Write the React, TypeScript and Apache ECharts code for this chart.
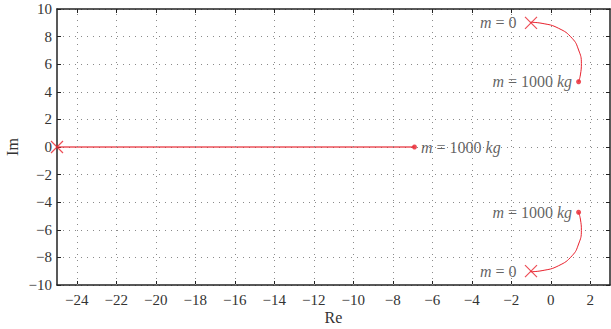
import React, { useEffect, useRef } from "react";
import * as echarts from "echarts";

const xTicks = [-24, -22, -20, -18, -16, -14, -12, -10, -8, -6, -4, -2, 0, 2];
const yTicks = [-10, -8, -6, -4, -2, 0, 2, 4, 6, 8, 10];

const poles = [[-25, 0], [-1, 9], [-1, -9]];
const endPoints = [[-6.9, 0], [1.41, 4.73], [1.41, -4.73]];
const realLocus = [[-25, 0], [-6.9, 0]];
const upperX = [-1.03, -0.44, 0.4, 1.08, 1.41, 1.55, 1.5, 1.41];
const upperY = [9.04, 8.96, 8.6, 7.88, 7.03, 6.06, 5.22, 4.73];
const lowerY = upperY.map((v) => -v);
const labelText = ["{i|m} = 1000 {i|kg}", "{i|m} = 1000 {i|kg}", "{i|m} = 1000 {i|kg}"];
const poleText = ["", "{i|m} = 0", "{i|m} = 0"];

const FONT = "Liberation Serif";
const RED = "#e8202c";
const GRID = { color: "#8a8a8a", type: [1, 5], width: 1 };

export default function App() {
  const ref = useRef<HTMLDivElement>(null);
  useEffect(() => {
    const chart = echarts.init(ref.current!, null, { renderer: "svg" });
    const fmt = (v: number) => (v < 0 ? "\u2212" + Math.abs(v) : String(v));
    const rich = { i: { fontStyle: "italic", fontFamily: FONT, fontSize: 16, color: "#3a3a3a" } };
    const lbl = { fontFamily: FONT, fontSize: 16, color: "#3a3a3a", rich };
    chart.setOption({
      animation: false,
      grid: { left: 57, right: 1, top: 9, bottom: 44, outerBoundsMode: "none", containLabel: false },
      xAxis: [
        {
          type: "value", min: -25, max: 3,
          name: "Re", nameLocation: "middle", nameGap: 24, nameMoveOverlap: false,
          nameTextStyle: { fontFamily: FONT, fontSize: 16, color: "#333" },
          axisLine: { onZero: false, lineStyle: { color: "#222", width: 1.5 } },
          axisTick: { inside: true, length: 4, customValues: xTicks, lineStyle: { color: "#222" } },
          axisLabel: { customValues: xTicks, formatter: fmt, fontFamily: FONT, fontSize: 15, color: "#333", margin: 7 },
          splitLine: { show: false },
        },
        {
          type: "value", min: -25, max: 3, position: "top",
          axisLine: { onZero: false, lineStyle: { color: "#222", width: 1.5 } },
          axisTick: { inside: true, length: 4, customValues: xTicks, lineStyle: { color: "#222" } },
          axisLabel: { show: false },
          splitLine: { show: false },
        },
      ],
      yAxis: [
        {
          type: "value", min: -10, max: 10, interval: 2,
          name: "Im", nameLocation: "middle", nameGap: 37, nameMoveOverlap: false,
          nameTextStyle: { fontFamily: FONT, fontSize: 16, color: "#333" },
          axisLine: { show: true, onZero: false, lineStyle: { color: "#222", width: 1.5 } },
          axisTick: { show: true, inside: true, length: 4, lineStyle: { color: "#222" } },
          axisLabel: { formatter: fmt, fontFamily: FONT, fontSize: 15, color: "#333", margin: 5 },
          splitLine: { show: true, lineStyle: GRID },
        },
        {
          type: "value", min: -10, max: 10, interval: 2, position: "right",
          axisLine: { show: true, onZero: false, lineStyle: { color: "#222", width: 1.5 } },
          axisTick: { show: true, inside: true, length: 4, lineStyle: { color: "#222" } },
          axisLabel: { show: false },
          splitLine: { show: false },
        },
      ],
      series: [
        {
          type: "line", data: [], symbol: "none",
          markLine: {
            silent: true, symbol: "none", label: { show: false },
            lineStyle: GRID,
            data: xTicks.map((v) => ({ xAxis: v })),
          },
        },
        {
          type: "line", data: realLocus, symbol: "none",
          lineStyle: { color: "rgba(232,40,50,0.6)", width: 2 },
        },
        {
          type: "line", data: upperX.map((x, i) => [x, upperY[i]]), symbol: "none", smooth: true,
          lineStyle: { color: RED, width: 1 },
        },
        {
          type: "line", data: upperX.map((x, i) => [x, lowerY[i]]), symbol: "none", smooth: true,
          lineStyle: { color: RED, width: 1 },
        },
        {
          type: "scatter",
          symbol: "path://M0,0L10,10M10,0L0,10",
          symbolSize: 12,
          itemStyle: { color: "none", borderColor: RED, borderWidth: 1.2 },
          data: poles.map((p, i) => ({
            value: p,
            label: {
              show: poleText[i] !== "",
              position: "left",
              distance: 6,
              formatter: poleText[i],
              ...lbl,
            },
          })),
        },
        {
          type: "scatter",
          symbol: "circle",
          symbolSize: 5,
          itemStyle: { color: RED },
          data: endPoints.map((p, i) => ({
            value: p,
            label: {
              show: true,
              position: i === 0 ? "right" : "left",
              distance: 4,
              formatter: labelText[i],
              ...lbl,
            },
          })),
        },
      ],
    });
    return () => chart.dispose();
  }, []);
  return <div ref={ref} style={{ position: "absolute", left: 0, top: 0, width: 611, height: 329 }} />;
}
